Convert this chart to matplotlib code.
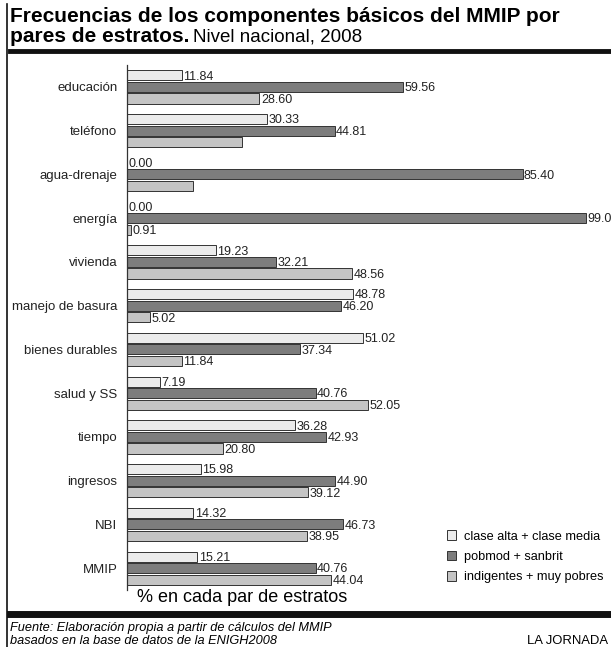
import numpy as np
import matplotlib.pyplot as plt
from matplotlib.patches import Patch
from matplotlib.lines import Line2D

plt.rcParams['font.family'] = ['Liberation Sans', 'DejaVu Sans']

# data
categories = ["educación", "teléfono", "agua-drenaje", "energía", "vivienda",
              "manejo de basura", "bienes durables", "salud y SS", "tiempo",
              "ingresos", "NBI", "MMIP"]
alta_media = [11.84, 30.33, 0.00, 0.00, 19.23, 48.78, 51.02, 7.19, 36.28, 15.98, 14.32, 15.21]
pobmod_sanbrit = [59.56, 44.81, 85.40, 99.0, 32.21, 46.20, 37.34, 40.76, 42.93, 44.90, 46.73, 40.76]
indig_pobres = [28.60, 24.8, 14.3, 0.91, 48.56, 5.02, 11.84, 52.05, 20.80, 39.12, 38.95, 44.04]
# labels as printed (some bars have none in the original)
lab_alta = ["11.84", "30.33", "0.00", "0.00", "19.23", "48.78", "51.02", "7.19", "36.28", "15.98", "14.32", "15.21"]
lab_pob = ["59.56", "44.81", "85.40", "99.0", "32.21", "46.20", "37.34", "40.76", "42.93", "44.90", "46.73", "40.76"]
lab_ind = ["28.60", "", "", "0.91", "48.56", "5.02", "11.84", "52.05", "20.80", "39.12", "38.95", "44.04"]
series_names = ["clase alta + clase media", "pobmod + sanbrit", "indigentes + muy pobres"]
colors = ["#ebebeb", "#7d7d7d", "#c4c4c4"]

fig = plt.figure(figsize=(6.11, 6.47), dpi=100)
ax = fig.add_axes([127 / 611, 1 - 590 / 647, 484 / 611, (590 - 65) / 647])

y = np.arange(len(categories))
h = 0.23
off = 0.265
series = [alta_media, pobmod_sanbrit, indig_pobres]
labels = [lab_alta, lab_pob, lab_ind]
for i, (vals, labs) in enumerate(zip(series, labels)):
    pos = y + (i - 1) * off
    ax.barh(pos, vals, height=h, color=colors[i], edgecolor="#333333", linewidth=0.7)
    for p, v, t in zip(pos, vals, labs):
        if t:
            ax.text(v + 0.3, p + 0.03, t, va="center", ha="left", fontsize=9, color="#222222")

ax.set_xlim(0, 104.5)
ax.set_ylim(len(categories) - 0.5, -0.5)
ax.set_yticks(y)
ax.set_yticklabels(categories, fontsize=9.5, color="#222222")
ax.tick_params(axis="y", length=0, pad=7)
ax.set_xticks([])
for s in ["top", "right", "bottom"]:
    ax.spines[s].set_visible(False)
ax.spines["left"].set_linewidth(0.9)
ax.spines["left"].set_color("#333333")

handles = [Patch(facecolor=c, edgecolor="#333333", linewidth=0.7) for c in colors]
ax.legend(handles, series_names, loc="lower right", bbox_to_anchor=(1.0, -0.002),
          borderaxespad=0.2, frameon=False, fontsize=9.2, handlelength=0.75,
          handleheight=0.75, handletextpad=0.6, labelspacing=0.65)

# title
fig.text(10 / 611, 1 - 17 / 647, "Frecuencias de los componentes básicos del MMIP por",
         fontsize=15, fontweight="bold", va="center", ha="left")
fig.text(10 / 611, 1 - 36 / 647, "pares de estratos.", fontsize=15,
         fontweight="bold", va="center", ha="left")
fig.text(193 / 611, 1 - 37 / 647, "Nivel nacional, 2008", fontsize=13.5,
         va="center", ha="left")

# x label
fig.text(137 / 611, 1 - 598 / 647, "% en cada par de estratos", fontsize=13,
         va="center", ha="left")

# frame lines
fig.add_artist(Line2D([7 / 611, 7 / 611], [0, 1 - 4 / 647], color="#111111", lw=1.2))
fig.add_artist(Line2D([10 / 611, 1], [1 - 50.5 / 647] * 2, color="#111111", lw=3.5))
fig.add_artist(Line2D([10 / 611, 1], [1 - 613.5 / 647] * 2, color="#111111", lw=5))

# footer
fig.text(10 / 611, 1 - 628 / 647, "Fuente: Elaboración propia a partir de cálculos del MMIP",
         fontsize=9.2, style="italic", va="center", ha="left")
fig.text(10 / 611, 1 - 641 / 647, "basados en la base de datos de la ENIGH2008",
         fontsize=9.2, style="italic", va="center", ha="left")
fig.text(608 / 611, 1 - 641 / 647, "LA JORNADA", fontsize=9.4, va="center", ha="right")

fig.savefig("out.png", dpi=100)
